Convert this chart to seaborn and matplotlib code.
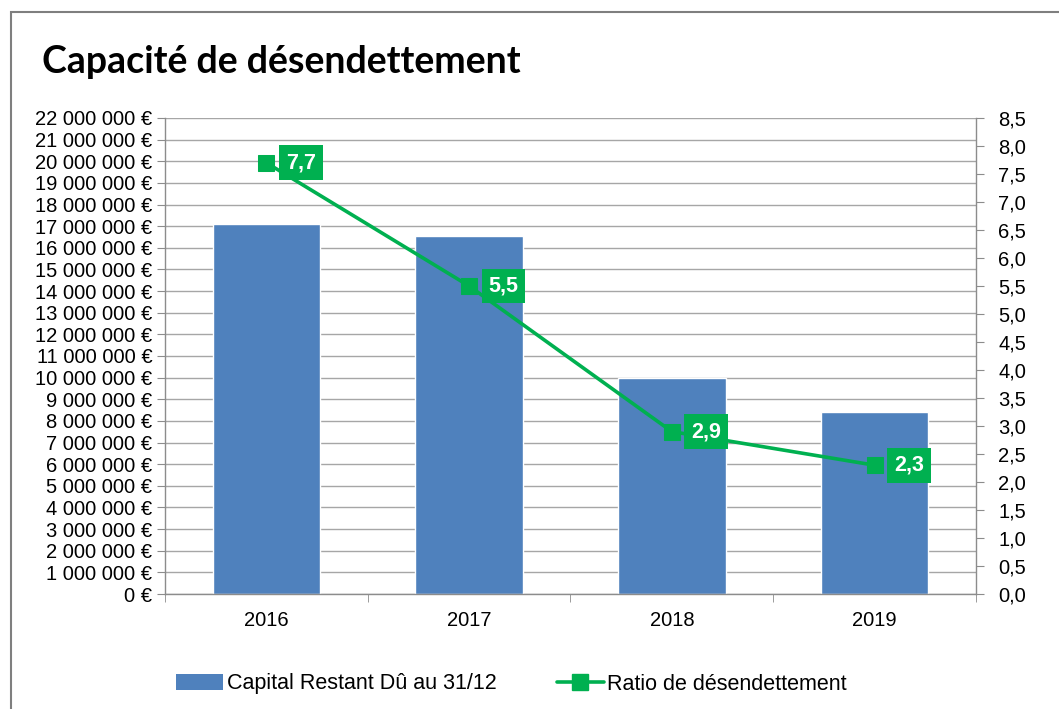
import matplotlib
matplotlib.use("Agg")
import matplotlib.pyplot as plt
import seaborn as sns
import pandas as pd
from matplotlib.lines import Line2D
from matplotlib.patches import Patch, Rectangle
from matplotlib.ticker import FixedLocator, FuncFormatter

# données
annees = ["2016", "2017", "2018", "2019"]
capital = [17100000, 16550000, 10000000, 8400000]
ratio = [7.7, 5.5, 2.9, 2.3]
ratio_labels = ["7,7", "5,5", "2,9", "2,3"]

bleu = "#4F81BD"
vert = "#00B050"
gris = "#8C8C8C"

sns.set_style("white")
plt.rcParams["font.family"] = ["Liberation Sans", "DejaVu Sans"]
plt.rcParams["text.color"] = "black"
plt.rcParams["xtick.color"] = "black"
plt.rcParams["ytick.color"] = "black"

df = pd.DataFrame({"annee": annees, "capital": capital, "ratio": ratio})

fig = plt.figure(figsize=(10.59, 7.09), dpi=100)
ax = fig.add_axes([0.1558, 0.1622, 0.9216 - 0.1558, 0.8336 - 0.1622])

sns.barplot(data=df, x="annee", y="capital", color=bleu, width=0.53,
            saturation=1, ax=ax, zorder=2)
ax.set_ylim(0, 22000000)
ax.set_xlim(-0.5, 3.5)
ax.yaxis.set_major_locator(FixedLocator(range(0, 22000001, 1000000)))
ax.yaxis.set_major_formatter(FuncFormatter(lambda v, p: f"{v:,.0f}".replace(",", " ") + " €"))
ax.grid(axis="y", color="#A6A6A6", linewidth=1, zorder=0)
ax.set_axisbelow(True)
ax.set_xlabel("")
ax.set_ylabel("")
ax.tick_params(axis="y", labelsize=14.5, length=6, color=gris, direction="out", left=True, pad=3)
ax.tick_params(axis="x", which="major", labelsize=14.5, length=0, pad=12)
ax.set_xticks([-0.5, 0.5, 1.5, 2.5, 3.5], minor=True)
ax.tick_params(axis="x", which="minor", length=6, color=gris, bottom=True, direction="out")
for s in ["left", "bottom", "right"]:
    ax.spines[s].set_color(gris)
    ax.spines[s].set_linewidth(1)
ax.spines["top"].set_visible(False)

ax2 = ax.twinx()
sns.lineplot(data=df, x="annee", y="ratio", color=vert, linewidth=2.6, marker="s",
             markersize=11, markeredgecolor=vert, ax=ax2, zorder=3)
ax2.set_ylim(0, 8.5)
ax2.yaxis.set_major_locator(FixedLocator([i * 0.5 for i in range(18)]))
ax2.yaxis.set_major_formatter(FuncFormatter(lambda v, p: f"{v:.1f}".replace(".", ",")))
ax2.tick_params(axis="y", labelsize=14.5, length=6, color=gris, direction="out", right=True, pad=10)
ax2.set_ylabel("")
ax2.set_xlabel("")
for s in ["left", "bottom", "right", "top"]:
    ax2.spines[s].set_visible(False)

for i, (v, lab) in enumerate(zip(ratio, ratio_labels)):
    ax2.annotate(lab, xy=(i, v), xytext=(14, 0), textcoords="offset points",
                 ha="left", va="center", color="white", fontsize=15.5, fontweight="bold",
                 bbox=dict(boxstyle="square,pad=0.32", fc=vert, ec="none"))

fig.text(42 / 1059, 1 - 62 / 709, "Capacité de désendettement", fontsize=27,
         fontweight="bold", family=["Lato", "DejaVu Sans"], va="center", ha="left",
         color="black")

handles = [Patch(facecolor=bleu, edgecolor="none"),
           Line2D([0], [0], color=vert, linewidth=2.6, marker="s", markersize=11)]
fig.legend(handles, ["Capital Restant Dû au 31/12", "Ratio de désendettement"],
           loc="center", bbox_to_anchor=(0.483, 1 - 684 / 709), ncol=2, frameon=False,
           fontsize=15.5, handlelength=2.2, handletextpad=0.15, columnspacing=2.8)

fig.add_artist(Rectangle((11 / 1059, -0.05), 1.2, 1.05 - 12 / 709, transform=fig.transFigure,
                         fill=False, edgecolor="#7F7F7F", linewidth=1.5))

fig.savefig("out.png", dpi=100)
